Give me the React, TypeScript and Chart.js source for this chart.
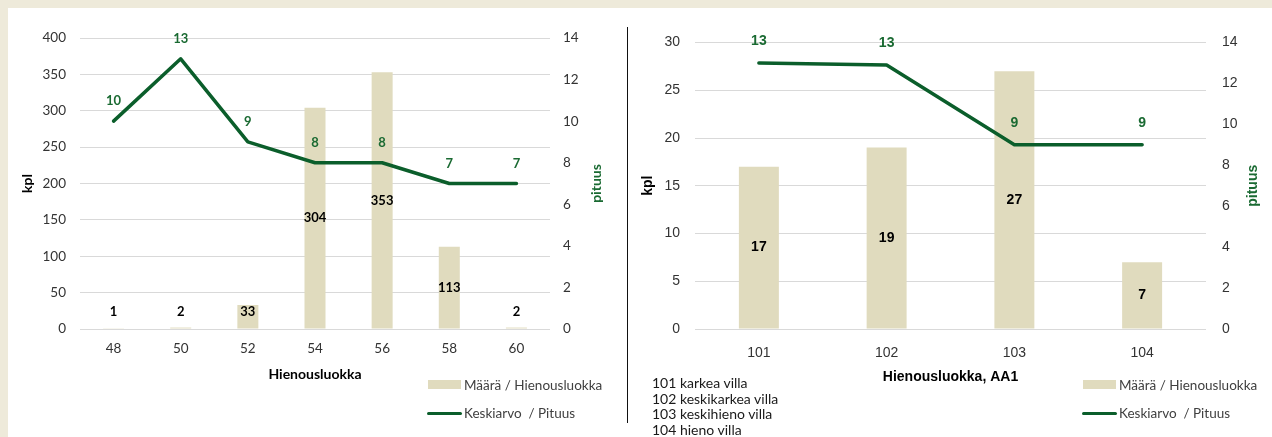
import React, { useEffect, useRef } from "react";
import { Chart, registerables } from "chart.js";

Chart.register(...registerables);

// ---------- data ----------
const leftCategories = ["48", "50", "52", "54", "56", "58", "60"];
const leftCounts = [1, 2, 33, 304, 353, 113, 2];
const leftLengths = [10, 13, 9, 8, 8, 7, 7];

const rightCategories = ["101", "102", "103", "104"];
const rightCounts = [17, 19, 27, 7];
const rightLengths = [13, 12.9, 9, 9];

const leftCountTicks = { min: 0, max: 400, step: 50 };
const rightCountTicks = { min: 0, max: 30, step: 5 };
const lengthTicks = { min: 0, max: 14, step: 2 };

const seriesNames = ["Määrä / Hienousluokka", "Keskiarvo  / Pituus"];
const leftXTitle = "Hienousluokka";
const rightXTitle = "Hienousluokka, AA1";
const countTitle = "kpl";
const lengthTitle = "pituus";
const classDescriptions = [
  "101 karkea villa",
  "102 keskikarkea villa",
  "103 keskihieno villa",
  "104 hieno villa",
];

// ---------- styles ----------
const BG = "#EEEADA";
const BAR = "#E0DBBE";
const LINE = "#0B5E2B";
const GREEN = "#1A6A32";
const GRID = "#D9D9D9";
const TICK = "#333333";
const CAL = "Lato, 'Liberation Sans', sans-serif";
const ARIAL = "'Liberation Sans', Arial, sans-serif";

const labelPlugin = {
  id: "valueLabels",
  afterDatasetsDraw(chart: any, _args: any, opts: any) {
    const ctx = chart.ctx;
    ctx.save();
    ctx.textAlign = "center";
    ctx.textBaseline = "middle";
    const barMeta = chart.getDatasetMeta(1);
    ctx.font = opts.barFont;
    ctx.fillStyle = "#000";
    barMeta.data.forEach((el: any, i: number) => {
      const v = chart.data.datasets[1].data[i];
      const c = (el.y + el.base) / 2;
      const y = Math.min(c, el.base - opts.barMin);
      ctx.fillText(String(v), el.x, y);
    });
    const lineMeta = chart.getDatasetMeta(0);
    ctx.font = opts.lineFont;
    ctx.fillStyle = GREEN;
    lineMeta.data.forEach((el: any, i: number) => {
      const v = chart.data.datasets[0].data[i] as number;
      ctx.fillText(String(Math.round(v)), el.x, el.y - opts.lineOffset);
    });
    const y1 = chart.scales.y1;
    const ca = chart.chartArea;
    ctx.font = opts.titleFont;
    ctx.fillStyle = GREEN;
    ctx.translate(y1.right - opts.pituusOffset, (ca.top + ca.bottom) / 2);
    ctx.rotate(-Math.PI / 2);
    ctx.fillText(lengthTitle, 0, 0);
    ctx.restore();
  },
};

type Spec = {
  categories: string[];
  counts: number[];
  lengths: number[];
  countTicks: { min: number; max: number; step: number };
  font: string;
  tickSize: number;
  padTop: number;
  leftW: number;
  rightW: number;
  xH: number;
  xTitle: string;
  xTitlePad: number;
  yTitlePad: number;
  xTickPad: number;
  yTickPad: number;
  y1TickPad: number;
  pituusOffset: number;
  lineOffset: number;
  labelSize: number;
};

function buildConfig(s: Spec): any {
  return {
    type: "bar",
    data: {
      labels: s.categories,
      datasets: [
        {
          type: "line",
          label: seriesNames[1],
          data: s.lengths,
          yAxisID: "y1",
          borderColor: LINE,
          borderWidth: 3.5,
          tension: 0,
          pointRadius: 0,
          borderCapStyle: "round",
          borderJoinStyle: "round",
          fill: false,
          order: 0,
        },
        {
          type: "bar",
          label: seriesNames[0],
          data: s.counts,
          yAxisID: "y",
          backgroundColor: BAR,
          categoryPercentage: 1,
          barPercentage: 0.313,
          order: 1,
        },
      ],
    },
    options: {
      responsive: false,
      animation: false,
      layout: { padding: { top: s.padTop, left: 0, right: 0, bottom: 0 } },
      plugins: {
        legend: { display: false },
        tooltip: { enabled: false },
        valueLabels: {
          barFont: `bold ${s.labelSize}px ${s.font}`,
          lineFont: `bold ${s.labelSize}px ${s.font}`,
          titleFont: `bold 14px ${s.font}`,
          barMin: 16.5,
          lineOffset: s.lineOffset,
          pituusOffset: s.pituusOffset,
        },
      },
      scales: {
        x: {
          grid: { display: false },
          border: { display: false },
          ticks: { color: TICK, font: { family: s.font, size: s.tickSize }, padding: s.xTickPad },
          title: {
            display: true,
            text: s.xTitle,
            color: "#000",
            font: { family: s.font, size: 14, weight: "bold", lineHeight: 1 },
            padding: { top: 0, bottom: s.xTitlePad },
          },
          afterFit: (sc: any) => {
            sc.height = s.xH;
          },
        },
        y: {
          position: "left",
          min: s.countTicks.min,
          max: s.countTicks.max,
          ticks: {
            stepSize: s.countTicks.step,
            color: TICK,
            font: { family: s.font, size: s.tickSize },
            padding: s.yTickPad,
          },
          grid: { color: GRID, lineWidth: 1, drawTicks: false },
          border: { display: false },
          title: {
            display: true,
            text: countTitle,
            color: "#000",
            font: { family: s.font, size: 14, weight: "bold", lineHeight: 1 },
            padding: { top: s.yTitlePad, bottom: 0 },
          },
          afterFit: (sc: any) => {
            sc.width = s.leftW;
          },
        },
        y1: {
          position: "right",
          min: lengthTicks.min,
          max: lengthTicks.max,
          ticks: {
            stepSize: lengthTicks.step,
            color: TICK,
            font: { family: s.font, size: s.tickSize },
            padding: s.y1TickPad,
          },
          grid: { display: false, drawTicks: false },
          border: { display: false },
          afterFit: (sc: any) => {
            sc.width = s.rightW;
          },
        },
      },
    },
    plugins: [labelPlugin],
  };
}

function ComboChart({ spec, left, top, width, height }: { spec: Spec; left: number; top: number; width: number; height: number }) {
  const ref = useRef<HTMLCanvasElement | null>(null);
  useEffect(() => {
    if (!ref.current) return;
    const chart = new Chart(ref.current, buildConfig(spec));
    return () => chart.destroy();
  }, [spec]);
  return (
    <canvas
      ref={ref}
      width={width}
      height={height}
      style={{ position: "absolute", left, top, width, height }}
    />
  );
}

function Legend({ x }: { x: number }) {
  const text: React.CSSProperties = {
    position: "absolute",
    left: x + 36,
    height: 18,
    lineHeight: "18px",
    fontFamily: CAL,
    fontSize: 13.5,
    color: "#404040",
    whiteSpace: "pre",
  };
  return (
    <>
      <div style={{ position: "absolute", left: x, top: 380, width: 33, height: 9, background: BAR }} />
      <div style={{ ...text, top: 376 }}>{seriesNames[0]}</div>
      <div style={{ position: "absolute", left: x - 1, top: 411.5, width: 35, height: 3, background: LINE, borderRadius: 1.5 }} />
      <div style={{ ...text, top: 404 }}>{seriesNames[1]}</div>
    </>
  );
}

const leftSpec: Spec = {
  categories: leftCategories,
  counts: leftCounts,
  lengths: leftLengths,
  countTicks: leftCountTicks,
  font: CAL,
  tickSize: 13.5,
  padTop: 30,
  leftW: 72,
  rightW: 70,
  xH: 108,
  xTitle: leftXTitle,
  xTitlePad: 56,
  yTitlePad: 12,
  xTickPad: 4,
  yTickPad: 14,
  y1TickPad: 13,
  pituusOffset: 24,
  lineOffset: 20,
  labelSize: 13,
};

const rightSpec: Spec = {
  categories: rightCategories,
  counts: rightCounts,
  lengths: rightLengths,
  countTicks: rightCountTicks,
  font: ARIAL,
  tickSize: 14,
  padTop: 34.5,
  leftW: 65,
  rightW: 66,
  xH: 108,
  xTitle: rightXTitle,
  xTitlePad: 53,
  yTitlePad: 11,
  xTickPad: 8,
  yTickPad: 15,
  y1TickPad: 16,
  pituusOffset: 19,
  lineOffset: 21.5,
  labelSize: 14,
};

export default function App() {
  useEffect(() => {
    document.body.style.margin = "0";
    document.body.style.background = BG;
  }, []);
  return (
    <div style={{ position: "fixed", left: 0, top: 0, width: 1272, height: 437, background: BG, overflow: "hidden" }}>
      <div style={{ position: "absolute", left: 8, top: 8, width: 1264, height: 429, background: "#fff" }} />
      <ComboChart spec={leftSpec} left={8} top={8} width={612} height={429} />
      <ComboChart spec={rightSpec} left={630} top={8} width={642} height={429} />
      <div style={{ position: "absolute", left: 627, top: 27, width: 1, height: 396, background: "#111" }} />
      <Legend x={428} />
      <Legend x={1083} />
      <div
        style={{
          position: "absolute",
          left: 652,
          top: 375,
          fontFamily: CAL,
          fontSize: 14,
          lineHeight: "15.6px",
          color: "#1a1a1a",
        }}
      >
        {classDescriptions.map((d) => (
          <div key={d}>{d}</div>
        ))}
      </div>
    </div>
  );
}
